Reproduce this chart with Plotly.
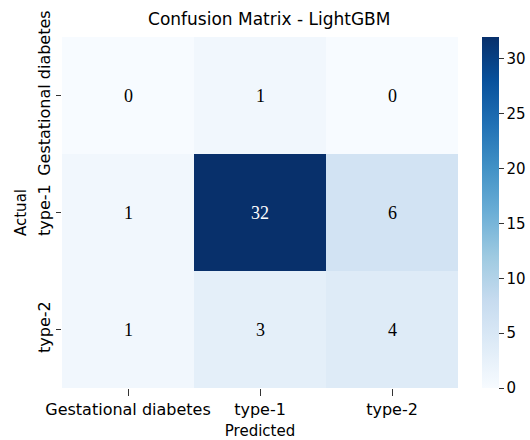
import plotly.graph_objects as go

# Confusion matrix values (rows: actual, columns: predicted)
classes = ["Gestational diabetes", "type-1", "type-2"]
counts = [
    [0, 1, 0],
    [1, 32, 6],
    [1, 3, 4],
]
cbar_ticks = [0, 5, 10, 15, 20, 25, 30]

blues = [
    [0.0, "#f7fbff"], [0.125, "#deebf7"], [0.25, "#c6dbef"], [0.375, "#9ecae1"],
    [0.5, "#6baed6"], [0.625, "#4292c6"], [0.75, "#2171b5"], [0.875, "#08519c"],
    [1.0, "#08306b"],
]

zmin = 0
zmax = max(max(r) for r in counts)

fig = go.Figure(go.Heatmap(
    z=counts, x=classes, y=classes,
    colorscale=blues, zmin=zmin, zmax=zmax,
    xgap=0, ygap=0,
    colorbar=dict(
        thickness=17, len=1, lenmode="fraction", y=0.5, yanchor="middle",
        x=1.061, xanchor="left", outlinewidth=0, xpad=0, ypad=0,
        tickvals=cbar_ticks, ticks="outside", ticklen=5, tickcolor="#333",
        tickfont=dict(family="DejaVu Sans", size=15, color="black"),
    ),
    hoverinfo="skip",
))

# Cell value labels: light text on dark cells
for i, row in enumerate(counts):
    for j, v in enumerate(row):
        frac = (v - zmin) / (zmax - zmin)
        fig.add_annotation(
            x=classes[j], y=classes[i], text=str(v), showarrow=False,
            font=dict(family="Liberation Serif", size=18,
                      color="white" if frac > 0.6 else "black"),
        )

fig.update_layout(
    width=530, height=440,
    margin=dict(l=62, r=72, t=37, b=52, autoexpand=False),
    paper_bgcolor="white", plot_bgcolor="white",
    title=dict(text="Confusion Matrix - LightGBM", x=0.508, xanchor="center",
               y=0.957, yanchor="middle",
               font=dict(family="DejaVu Sans", size=17, color="black")),
    font=dict(family="DejaVu Sans", color="black"),
)
fig.update_xaxes(
    title=dict(text="Predicted", font=dict(size=15), standoff=7),
    tickfont=dict(size=16), ticks="outside", ticklen=7, tickcolor="#333",
    showgrid=False, zeroline=False, showline=False,
)
fig.update_yaxes(
    title=dict(text="Actual", font=dict(size=15), standoff=4),
    tickfont=dict(size=16), ticks="outside", ticklen=5, tickcolor="#333",
    tickangle=-90, autorange="reversed",
    showgrid=False, zeroline=False, showline=False,
)

fig.write_html("out.html")
